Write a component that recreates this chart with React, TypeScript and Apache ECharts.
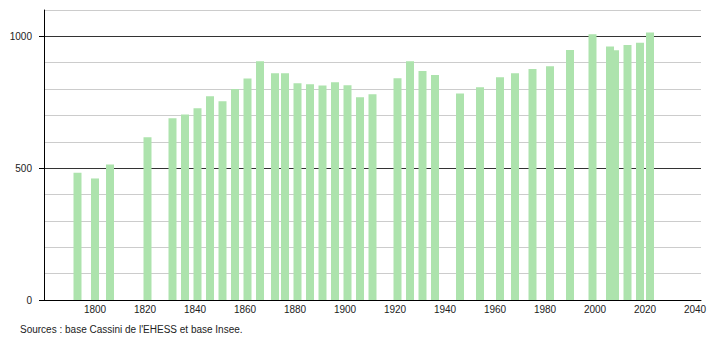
import React, { useEffect, useRef } from "react";
import * as echarts from "echarts";

const years = [1793, 1800, 1806, 1821, 1831, 1836, 1841, 1846, 1851, 1856, 1861, 1866, 1872, 1876, 1881, 1886, 1891, 1896, 1901, 1906, 1911, 1921, 1926, 1931, 1936, 1946, 1954, 1962, 1968, 1975, 1982, 1990, 1999, 2006, 2008, 2013, 2018, 2022];
const population = [483, 461, 514, 617, 689, 704, 727, 773, 754, 800, 840, 906, 860, 860, 822, 818, 814, 826, 815, 769, 780, 841, 906, 869, 853, 783, 807, 845, 860, 876, 887, 948, 1008, 962, 947, 967, 976, 1015];
const xTickLabels = [1800, 1820, 1840, 1860, 1880, 1900, 1920, 1940, 1960, 1980, 2000, 2020, 2040];
const yTickLabels = [0, 500, 1000];
const sourceText = "Sources : base Cassini de l'EHESS et base Insee.";

const FONT = "'Liberation Sans', Arial, sans-serif";

export default function App() {
  const ref = useRef<HTMLDivElement>(null);
  useEffect(() => {
    if (!ref.current) return;
    const chart = echarts.init(ref.current, null, { renderer: "svg" });
    chart.setOption({
      animation: false,
      backgroundColor: "#ffffff",
      grid: { left: 44, right: 9, top: 10, bottom: 40, containLabel: false },
      xAxis: {
        type: "value",
        min: 1779.6,
        max: 2042.4,
        splitLine: { show: false },
        axisLine: { show: true, onZero: false, lineStyle: { color: "#000", width: 1 } },
        axisTick: { show: false },
        axisLabel: {
          customValues: xTickLabels,
          formatter: (v: number) => String(v),
          color: "#222",
          fontSize: 10,
          fontFamily: FONT,
          margin: 4,
        },
      },
      yAxis: [
        {
          type: "value",
          min: 0,
          max: 1100,
          interval: 100,
          position: "left",
          axisLine: { show: false },
          axisTick: { show: false },
          axisLabel: { show: false },
          splitLine: {
            show: true,
            lineStyle: { color: ["#333", "#ccc", "#ccc", "#ccc", "#ccc"], width: 1 },
          },
        },
        {
          type: "value",
          min: 0,
          max: 1100,
          position: "left",
          axisLine: { show: true, onZero: false, lineStyle: { color: "#000", width: 1 } },
          axisTick: { show: true, customValues: yTickLabels, length: 5, lineStyle: { color: "#000" } },
          axisLabel: {
            customValues: yTickLabels,
            formatter: (v: number) => String(v),
            color: "#222",
            fontSize: 10,
            fontFamily: FONT,
            margin: 12,
          },
          splitLine: { show: false },
        },
      ],
      series: [
        {
          type: "bar",
          yAxisIndex: 0,
          barWidth: 8,
          itemStyle: { color: "#ade3ad" },
          data: years.map((y, i) => [y, population[i]]),
        },
      ],
      graphic: [
        {
          type: "text",
          left: 20,
          top: 324,
          style: { text: sourceText, fontSize: 10, fontFamily: FONT, fill: "#222" },
        },
      ],
    });
    return () => chart.dispose();
  }, []);
  return (
    <div
      ref={ref}
      style={{ position: "fixed", left: 0, top: 0, width: 710, height: 340 }}
    />
  );
}
